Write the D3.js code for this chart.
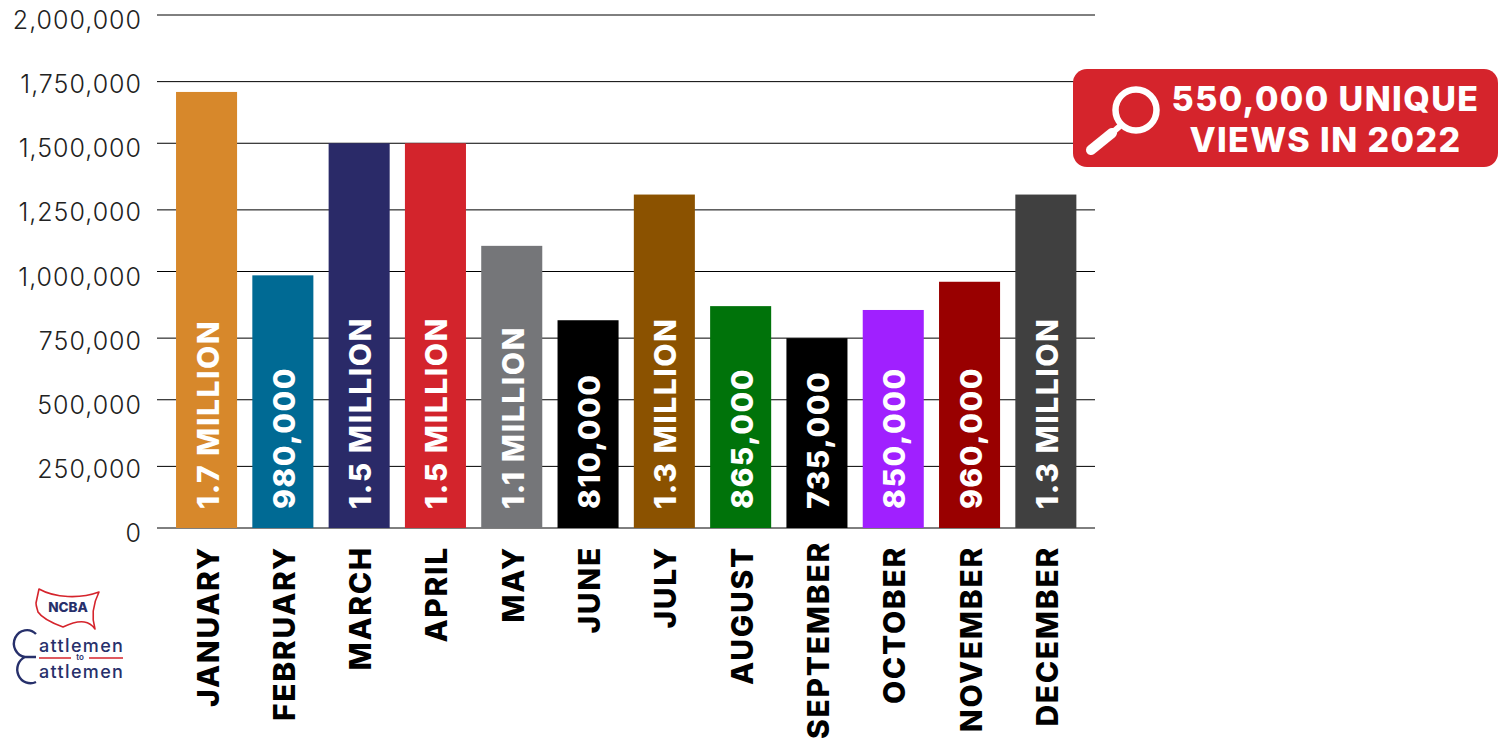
<!DOCTYPE html>
<html>
<head>
<meta charset="utf-8">
<script src="https://cdn.jsdelivr.net/npm/d3@7"></script>
<style>
  html, body { margin: 0; padding: 0; background: #fff; }
  svg { display: block; }
  text { font-family: Inter, "Open Sans", sans-serif; }
</style>
</head>
<body>
<svg id="chart" width="1498" height="739"></svg>
<script>
const months = ["JANUARY", "FEBRUARY", "MARCH", "APRIL", "MAY", "JUNE", "JULY", "AUGUST", "SEPTEMBER", "OCTOBER", "NOVEMBER", "DECEMBER"];
const views = [1700000, 985000, 1500000, 1500000, 1100000, 810000, 1300000, 865000, 740000, 850000, 960000, 1300000];
const viewLabels = ["1.7 MILLION", "980,000", "1.5 MILLION", "1.5 MILLION", "1.1 MILLION", "810,000", "1.3 MILLION", "865,000", "735,000", "850,000", "960,000", "1.3 MILLION"];
const barColors = ["#d7882b", "#006a94", "#2a2a68", "#d3242c", "#757679", "#000000", "#8b5200", "#00730a", "#000000", "#a020ff", "#990000", "#404040"];
const yTicks = [0, 250000, 500000, 750000, 1000000, 1250000, 1500000, 1750000, 2000000];
const calloutLines = ["550,000 UNIQUE", "VIEWS IN 2022"];

const svg = d3.select("#chart");
const navy = "#27306b";
const red = "#d5242c";

const y = d3.scaleLinear().domain([0, 2000000]).range([528, 15]);
const x = d3.scaleBand().domain(months).range([168.4, 1084]).paddingInner(0.2).paddingOuter(0.1);

// the gridlines in the original sit a little low on every other tick
const nudge = (d) => (d % 500000 ? 2.5 : 0);

// Gridlines
svg.append("g")
  .selectAll("line")
  .data(yTicks)
  .enter()
  .append("line")
  .attr("x1", 157)
  .attr("x2", 1095)
  .attr("y1", (d) => y(d) + nudge(d))
  .attr("y2", (d) => y(d) + nudge(d))
  .attr("stroke", "#000")
  .attr("stroke-width", 1);

// Y labels
svg.append("g")
  .selectAll("text")
  .data(yTicks)
  .enter()
  .append("text")
  .attr("x", 142)
  .attr("y", (d) => y(d) + 14)
  .attr("text-anchor", "end")
  .attr("font-size", 25)
  .attr("font-weight", 300)
  .attr("letter-spacing", 1)
  .attr("fill", "#222")
  .text(d3.format(","));

// Bars
svg.append("g")
  .selectAll("rect")
  .data(views)
  .enter()
  .append("rect")
  .attr("x", (d, i) => x(months[i]))
  .attr("y", (d) => y(d))
  .attr("width", x.bandwidth())
  .attr("height", (d) => y(0) - y(d))
  .attr("fill", (d, i) => barColors[i]);

// Value labels inside the bars
svg.append("g")
  .selectAll("text")
  .data(viewLabels)
  .enter()
  .append("text")
  .attr("transform", (d, i) => `translate(${x(months[i]) + x.bandwidth() / 2 + 12},509) rotate(-90)`)
  .attr("font-size", 30)
  .attr("font-weight", 800)
  .attr("letter-spacing", 1.5)
  .attr("fill", "#fff")
  .text((d) => d);

// Month labels
svg.append("g")
  .selectAll("text")
  .data(months)
  .enter()
  .append("text")
  .attr("transform", (d) => `translate(${x(d) + x.bandwidth() / 2 + 12},${d === "SEPTEMBER" ? 541 : 546}) rotate(-90)`)
  .attr("text-anchor", "end")
  .attr("font-size", 30)
  .attr("font-weight", 800)
  .attr("letter-spacing", 1.7)
  .attr("fill", "#000")
  .text((d) => d);

// Callout
const callout = svg.append("g");
callout.append("rect")
  .attr("x", 1073)
  .attr("y", 69)
  .attr("width", 425)
  .attr("height", 98)
  .attr("rx", 14)
  .attr("fill", red);
callout.append("circle")
  .attr("cx", 1136)
  .attr("cy", 110)
  .attr("r", 20.5)
  .attr("fill", "none")
  .attr("stroke", "#fff")
  .attr("stroke-width", 6.5);
callout.append("line")
  .attr("x1", 1091)
  .attr("y1", 150)
  .attr("x2", 1112)
  .attr("y2", 133)
  .attr("stroke", "#fff")
  .attr("stroke-width", 10)
  .attr("stroke-linecap", "round");
callout.append("line")
  .attr("x1", 1112)
  .attr("y1", 133)
  .attr("x2", 1120)
  .attr("y2", 126)
  .attr("stroke", "#fff")
  .attr("stroke-width", 6);
callout.selectAll("text.callout")
  .data(calloutLines)
  .enter()
  .append("text")
  .attr("class", "callout")
  .attr("x", 1325.5)
  .attr("y", (d, i) => 111 + i * 41)
  .attr("text-anchor", "middle")
  .attr("font-size", 34)
  .attr("font-weight", 800)
  .attr("letter-spacing", 1.4)
  .attr("fill", "#fff")
  .text((d) => d);

// NCBA logo
const logo = svg.append("g");
logo.append("path")
  .attr("d", "M39 589 C55 598 80 599 99 592 C95 600 90 612 95 629 C90 622 82 618 63 627 C52 623 42 618 38 612 C37 608 36 606 36 603 Z")
  .attr("fill", "#fff")
  .attr("stroke", red)
  .attr("stroke-width", 1.6)
  .attr("stroke-linejoin", "round");
logo.append("text")
  .attr("x", 68)
  .attr("y", 612)
  .attr("text-anchor", "middle")
  .attr("font-size", 13.5)
  .attr("font-weight", 800)
  .attr("fill", navy)
  .text("NCBA");
logo.append("path")
  .attr("d", "M36 634 A 13 13.5 0 1 0 25 657 L36 657 M25 657 A 13 13.5 0 1 0 36 682")
  .attr("fill", "none")
  .attr("stroke", navy)
  .attr("stroke-width", 2.4);
logo.selectAll("text.word")
  .data([652, 678])
  .enter()
  .append("text")
  .attr("class", "word")
  .attr("x", 39)
  .attr("y", (d) => d)
  .attr("font-size", 18)
  .attr("font-weight", 500)
  .attr("letter-spacing", 1.35)
  .attr("fill", navy)
  .text("attlemen");
logo.append("text")
  .attr("x", 80)
  .attr("y", 660)
  .attr("text-anchor", "middle")
  .attr("font-size", 8)
  .attr("font-weight", 600)
  .attr("fill", navy)
  .text("to");
logo.append("path")
  .attr("d", "M39 658 H71 M89 658 H123")
  .attr("stroke", red)
  .attr("stroke-width", 1.5);
</script>
</body>
</html>
